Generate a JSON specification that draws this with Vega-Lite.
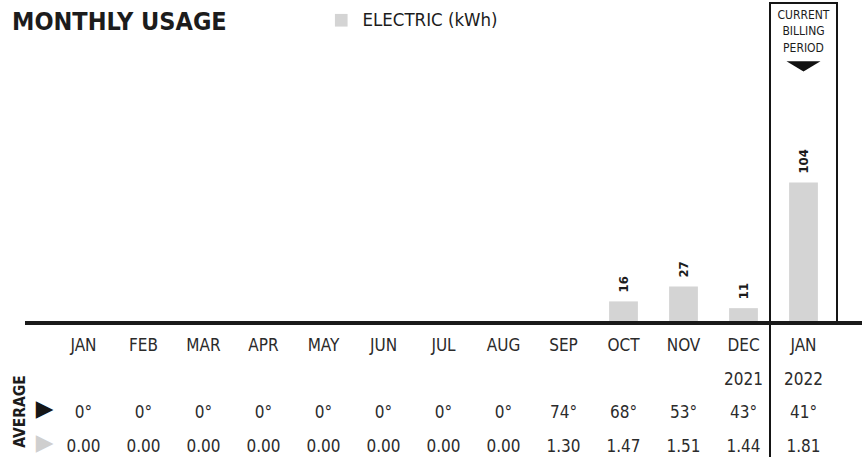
{
  "$schema": "https://vega.github.io/schema/vega-lite/v6.json",
  "width": 837,
  "height": 454,
  "autosize": {"type": "none"},
  "padding": {"left": 25, "top": 3, "right": 0, "bottom": 0},
  "background": "white",
  "title": {
    "text": "MONTHLY USAGE",
    "anchor": "start",
    "frame": "group",
    "orient": "top",
    "offset": 0,
    "baseline": "alphabetic",
    "dx": -13,
    "dy": 53,
    "font": "DejaVu Sans Condensed, sans-serif",
    "fontSize": 25,
    "fontWeight": "bold",
    "color": "#1c1c1c"
  },
  "config": {
    "view": {"stroke": null},
    "font": "DejaVu Sans Condensed, sans-serif"
  },
  "data": {
    "values": [
      {"ym": "2021-01", "mon": "JAN", "year": null, "kwh": 0, "temp": 0, "perday": 0.00, "current": false, "utility": "ELECTRIC (kWh)"},
      {"ym": "2021-02", "mon": "FEB", "year": null, "kwh": 0, "temp": 0, "perday": 0.00, "current": false, "utility": "ELECTRIC (kWh)"},
      {"ym": "2021-03", "mon": "MAR", "year": null, "kwh": 0, "temp": 0, "perday": 0.00, "current": false, "utility": "ELECTRIC (kWh)"},
      {"ym": "2021-04", "mon": "APR", "year": null, "kwh": 0, "temp": 0, "perday": 0.00, "current": false, "utility": "ELECTRIC (kWh)"},
      {"ym": "2021-05", "mon": "MAY", "year": null, "kwh": 0, "temp": 0, "perday": 0.00, "current": false, "utility": "ELECTRIC (kWh)"},
      {"ym": "2021-06", "mon": "JUN", "year": null, "kwh": 0, "temp": 0, "perday": 0.00, "current": false, "utility": "ELECTRIC (kWh)"},
      {"ym": "2021-07", "mon": "JUL", "year": null, "kwh": 0, "temp": 0, "perday": 0.00, "current": false, "utility": "ELECTRIC (kWh)"},
      {"ym": "2021-08", "mon": "AUG", "year": null, "kwh": 0, "temp": 0, "perday": 0.00, "current": false, "utility": "ELECTRIC (kWh)"},
      {"ym": "2021-09", "mon": "SEP", "year": null, "kwh": 0, "temp": 74, "perday": 1.30, "current": false, "utility": "ELECTRIC (kWh)"},
      {"ym": "2021-10", "mon": "OCT", "year": null, "kwh": 16, "temp": 68, "perday": 1.47, "current": false, "utility": "ELECTRIC (kWh)"},
      {"ym": "2021-11", "mon": "NOV", "year": null, "kwh": 27, "temp": 53, "perday": 1.51, "current": false, "utility": "ELECTRIC (kWh)"},
      {"ym": "2021-12", "mon": "DEC", "year": "2021", "kwh": 11, "temp": 43, "perday": 1.44, "current": false, "utility": "ELECTRIC (kWh)"},
      {"ym": "2022-01", "mon": "JAN", "year": "2022", "kwh": 104, "temp": 41, "perday": 1.81, "current": true, "utility": "ELECTRIC (kWh)"}
    ]
  },
  "layer": [
    {
      "layer": [
        {
          "mark": {"type": "bar"},
          "encoding": {
            "x": {"field": "ym", "type": "ordinal", "scale": {"paddingInner": 0.52, "paddingOuter": 0.735}, "axis": null},
            "y": {"field": "kwh", "type": "quantitative", "scale": {"domain": [0, 237], "range": [320, 0], "nice": false, "zero": true}, "axis": null},
            "fill": {
              "field": "utility",
              "type": "nominal",
              "scale": {"range": ["#d4d4d4"]},
              "legend": {
                "orient": "none",
                "legendX": 307,
                "legendY": 8,
                "title": null,
                "padding": 0,
                "symbolType": "square",
                "symbolSize": 160,
                "symbolStrokeWidth": 0,
                "labelFont": "DejaVu Sans Condensed, sans-serif",
                "labelFontSize": 18.5,
                "labelColor": "#1c1c1c",
                "labelOffset": 12
              }
            }
          }
        },
        {
          "transform": [{"filter": "datum.current"}],
          "mark": {"type": "bar", "width": 67, "fillOpacity": 0, "stroke": "#151515", "strokeWidth": 2},
          "encoding": {
            "x": {"field": "ym", "type": "ordinal"},
            "y": {"datum": 237, "type": "quantitative"},
            "y2": {"datum": 0}
          }
        },
        {
          "transform": [{"filter": "datum.current"}],
          "mark": {"type": "rule", "xOffset": -33.5, "stroke": "#151515", "strokeWidth": 2},
          "encoding": {
            "x": {"field": "ym", "type": "ordinal"}
          }
        },
        {
          "mark": {"type": "rule", "stroke": "#1a1a1a", "strokeWidth": 3},
          "encoding": {
            "y": {"datum": 0, "type": "quantitative"}
          }
        },
        {
          "transform": [{"filter": "datum.kwh > 0"}],
          "mark": {"type": "text", "angle": 270, "align": "left", "baseline": "middle", "dx": 9, "fontSize": 13, "fontWeight": "bold", "fill": "#1c1c1c"},
          "encoding": {
            "x": {"field": "ym", "type": "ordinal"},
            "y": {"field": "kwh", "type": "quantitative"},
            "text": {"field": "kwh", "type": "quantitative"}
          }
        },
        {
          "transform": [{"filter": "datum.current"}],
          "mark": {"type": "text", "text": ["CURRENT", "BILLING", "PERIOD"], "baseline": "top", "align": "center", "lineHeight": 16.5, "fontSize": 12, "fill": "#1c1c1c"},
          "encoding": {
            "x": {"field": "ym", "type": "ordinal"},
            "y": {"datum": 232, "type": "quantitative"}
          }
        },
        {
          "transform": [{"filter": "datum.current"}],
          "mark": {"type": "point", "shape": "M-1,-0.3L1,-0.3L0,0.3Z", "size": 1156, "filled": true, "fill": "#111111", "opacity": 1, "strokeWidth": 0},
          "encoding": {
            "x": {"field": "ym", "type": "ordinal"},
            "y": {"datum": 190, "type": "quantitative"}
          }
        }
      ]
    },
    {
      "layer": [
        {
          "mark": {"type": "text", "fontSize": 17, "fill": "#2b2b2b", "baseline": "middle"},
          "encoding": {
            "x": {"field": "ym", "type": "ordinal"},
            "y": {
              "datum": "month",
              "type": "nominal",
              "scale": {"type": "point", "domain": ["month", "year", "temp", "perday"], "range": [343, 444], "padding": 0},
              "axis": {
                "orient": "left",
                "offset": -30,
                "domain": false,
                "ticks": false,
                "grid": false,
                "labelPadding": 2,
                "labelOffset": -5,
                "labelFont": "DejaVu Sans",
                "labelFontSize": 23,
                "labelAlign": "right",
                "labelBaseline": "middle",
                "labelExpr": "datum.value == 'temp' || datum.value == 'perday' ? '▶' : ''",
                "labelColor": {"condition": {"test": "datum.value == 'temp'", "value": "#161616"}, "value": "#cfcfcf"},
                "title": "AVERAGE",
                "titleFont": "DejaVu Sans Condensed, sans-serif",
                "titleFontSize": 15.5,
                "titleFontWeight": "bold",
                "titleColor": "#1c1c1c",
                "titleAngle": 270,
                "titleAlign": "center",
                "titleBaseline": "middle",
                "titleX": -36,
                "titleY": 408
              }
            },
            "text": {"field": "mon", "type": "nominal"}
          }
        },
        {
          "transform": [{"filter": "datum.year != null"}],
          "mark": {"type": "text", "fontSize": 17, "fill": "#2b2b2b", "baseline": "middle"},
          "encoding": {
            "x": {"field": "ym", "type": "ordinal"},
            "y": {"datum": "year", "type": "nominal"},
            "text": {"field": "year", "type": "nominal"}
          }
        },
        {
          "mark": {"type": "text", "fontSize": 17, "fill": "#2b2b2b", "baseline": "middle", "text": {"expr": "datum.temp + '°'"}},
          "encoding": {
            "x": {"field": "ym", "type": "ordinal"},
            "y": {"datum": "temp", "type": "nominal"}
          }
        },
        {
          "mark": {"type": "text", "fontSize": 17, "fill": "#2b2b2b", "baseline": "middle"},
          "encoding": {
            "x": {"field": "ym", "type": "ordinal"},
            "y": {"datum": "perday", "type": "nominal"},
            "text": {"field": "perday", "type": "quantitative", "format": ".2f"}
          }
        }
      ]
    }
  ],
  "resolve": {"scale": {"y": "independent"}}
}
